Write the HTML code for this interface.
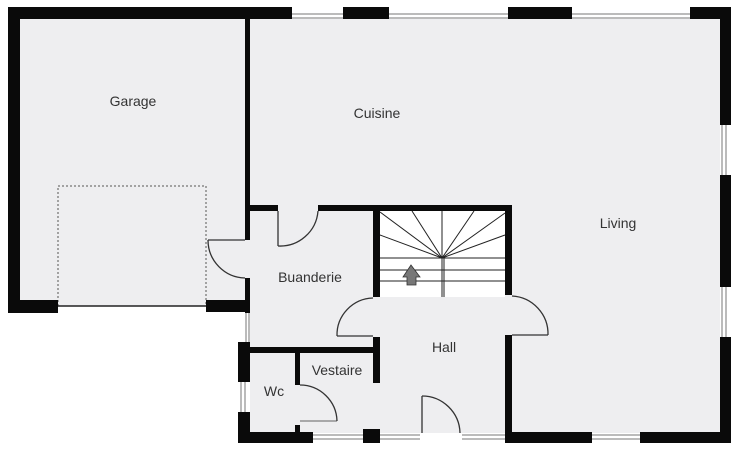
<!DOCTYPE html>
<html><head><style>
html,body{margin:0;padding:0;background:#fff;}
svg{display:block;}
text{font-family:"Liberation Sans",Arial,sans-serif;font-size:14px;fill:#333;text-anchor:middle;}
</style></head><body>
<svg width="736" height="455" viewBox="0 0 736 455" xmlns="http://www.w3.org/2000/svg">
<!-- floor fills -->
<g fill="#eeeef0">
<rect x="20" y="19" width="700" height="282"/>
<rect x="250" y="300" width="470" height="133"/>
<rect x="58" y="186" width="148" height="120"/>
</g>
<rect x="380" y="211" width="125" height="86" fill="#fff"/>
<!-- garage dashed -->
<rect x="58" y="186" width="148" height="120" fill="none" stroke="#555" stroke-width="1" stroke-dasharray="2,2"/>
<line x1="58" y1="306" x2="206" y2="306" stroke="#222" stroke-width="1.5"/>
<!-- windows -->
<g stroke="#777" stroke-width="1" fill="none">
<line x1="292" y1="14" x2="343" y2="14"/><line x1="292" y1="18" x2="343" y2="18"/>
<line x1="389" y1="14" x2="508" y2="14"/><line x1="389" y1="18" x2="508" y2="18"/>
<line x1="572" y1="14" x2="690" y2="14"/><line x1="572" y1="18" x2="690" y2="18"/>
<line x1="722" y1="125" x2="722" y2="175"/><line x1="726" y1="125" x2="726" y2="175"/>
<line x1="722" y1="287" x2="722" y2="337"/><line x1="726" y1="287" x2="726" y2="337"/>
<line x1="592" y1="435" x2="640" y2="435"/><line x1="592" y1="439" x2="640" y2="439"/>
<line x1="313" y1="435" x2="363" y2="435"/><line x1="313" y1="439" x2="363" y2="439"/>
<line x1="380" y1="435" x2="420" y2="435"/><line x1="380" y1="439" x2="420" y2="439"/>
<line x1="462" y1="435" x2="505" y2="435"/><line x1="462" y1="439" x2="505" y2="439"/>
<line x1="246" y1="313" x2="246" y2="342"/><line x1="249" y1="313" x2="249" y2="342"/>
<line x1="241" y1="382" x2="241" y2="412"/><line x1="245" y1="382" x2="245" y2="412"/>
</g>
<!-- walls -->
<g fill="#0a0a0a">
<rect x="8" y="7" width="284" height="12"/>
<rect x="343" y="7" width="46" height="12"/>
<rect x="508" y="7" width="64" height="12"/>
<rect x="690" y="7" width="41" height="12"/>
<rect x="8" y="7" width="12" height="306"/>
<rect x="8" y="300" width="50" height="13"/>
<rect x="206" y="300" width="44" height="12"/>
<rect x="720" y="7" width="11" height="118"/>
<rect x="720" y="175" width="11" height="112"/>
<rect x="720" y="337" width="11" height="106"/>
<rect x="640" y="432" width="91" height="11"/>
<rect x="505" y="432" width="87" height="11"/>
<rect x="245" y="19" width="5" height="221"/>
<rect x="245" y="278" width="5" height="35"/>
<rect x="250" y="205" width="28" height="6"/>
<rect x="318" y="205" width="194" height="6"/>
<rect x="373" y="205" width="7" height="92"/>
<rect x="505" y="205" width="7" height="90"/>
<rect x="373" y="337" width="7" height="46"/>
<rect x="505" y="335" width="7" height="108"/>
<rect x="238" y="342" width="12" height="40"/>
<rect x="238" y="412" width="12" height="31"/>
<rect x="250" y="347" width="130" height="6"/>
<rect x="295" y="352" width="5" height="33"/>
<rect x="295" y="425" width="5" height="8"/>
<rect x="238" y="432" width="75" height="11"/>
<rect x="363" y="429" width="17" height="14"/>
</g>
<!-- doors -->
<g stroke="#333" stroke-width="1.3" fill="none">
<line x1="208" y1="240" x2="245" y2="240"/><path d="M208 240 A38 38 0 0 0 245 278"/>
<line x1="278" y1="211" x2="278" y2="246"/><path d="M278 246 A38 38 0 0 0 318 211"/>
<line x1="337" y1="336" x2="373" y2="336"/><path d="M337 336 A37 37 0 0 1 373 298"/>
<line x1="512" y1="335" x2="548" y2="335"/><path d="M512 296 A38 38 0 0 1 548 335"/>
<path d="M300 385 A37 37 0 0 1 337 421"/><line x1="300" y1="421" x2="337" y2="421" stroke-width="0.8"/>
<line x1="422" y1="396" x2="422" y2="433"/><path d="M422 396 A38 38 0 0 1 460 433"/>
</g>
<!-- stairs -->
<g stroke="#222" stroke-width="1" fill="none">
<line x1="380" y1="258" x2="505" y2="258"/>
<line x1="380" y1="270" x2="505" y2="270"/>
<line x1="380" y1="281" x2="505" y2="281"/>
<line x1="442" y1="211" x2="442" y2="297"/>
<line x1="444" y1="258" x2="444" y2="297"/>
<line x1="442" y1="258" x2="380" y2="212"/>
<line x1="442" y1="258" x2="412" y2="211"/>
<line x1="442" y1="258" x2="380" y2="235"/>
<line x1="442" y1="258" x2="474" y2="211"/>
<line x1="442" y1="258" x2="505" y2="213"/>
<line x1="442" y1="258" x2="505" y2="235"/>
</g>
<polygon points="411,265 420,277 416,277 416,285 407,285 407,277 403,277" fill="#777" stroke="#333" stroke-width="0.8"/>
<!-- labels -->
<text x="133" y="106">Garage</text>
<text x="377" y="118">Cuisine</text>
<text x="618" y="228">Living</text>
<text x="310" y="282">Buanderie</text>
<text x="444" y="352">Hall</text>
<text x="337" y="375">Vestaire</text>
<text x="274" y="396">Wc</text>
</svg>
</body></html>
